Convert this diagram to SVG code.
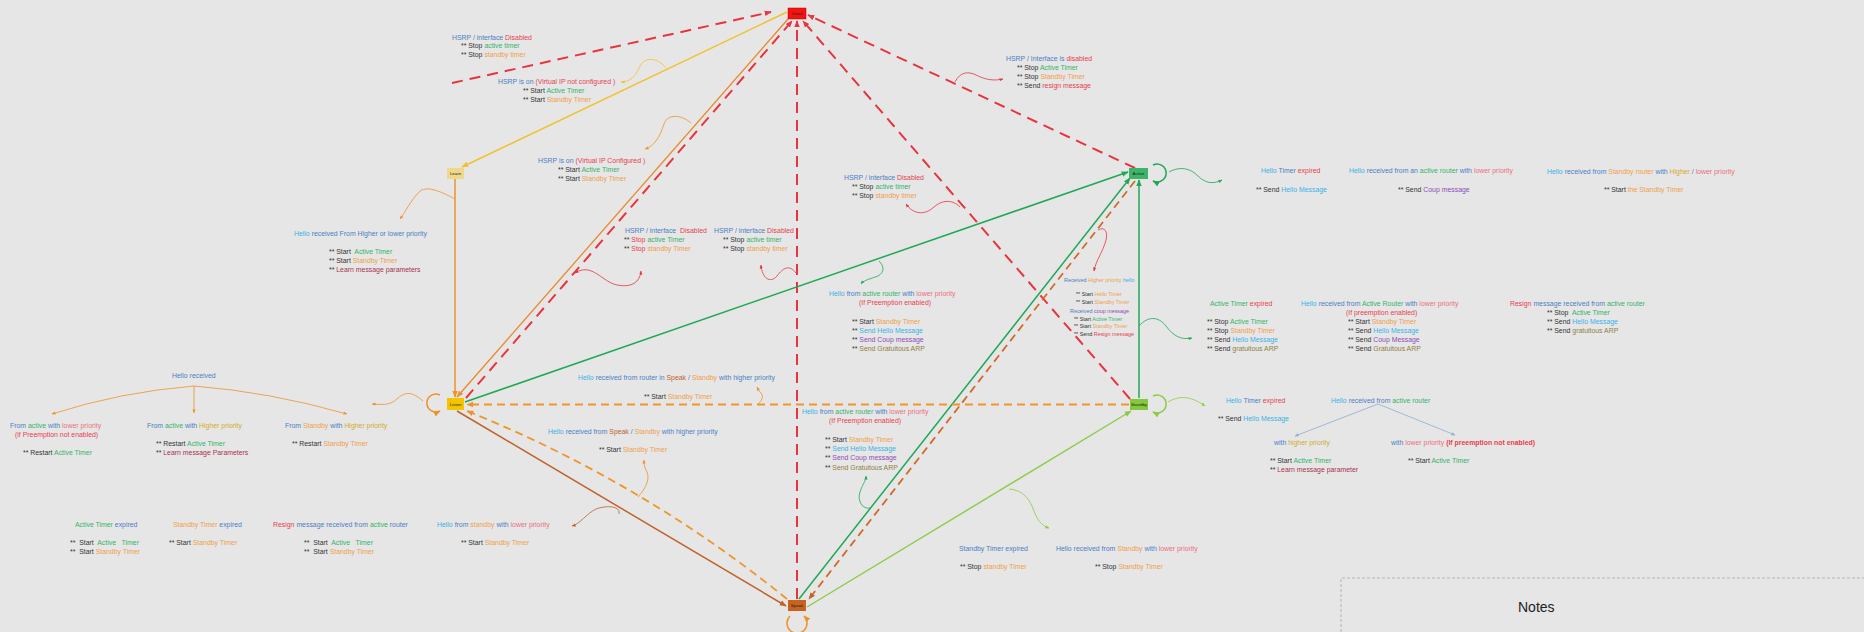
<svg xmlns="http://www.w3.org/2000/svg" width="1864" height="632" viewBox="0 0 1864 632">
<style>
  text { font-family: "Liberation Sans", Arial, sans-serif; font-size: 6.9px; fill: #333; }
  .s { font-size: 5.4px; }
  .nl { font-size: 4.4px; text-anchor: middle; fill: #222; }
  .b { fill: #4a80c4; } .h { fill: #3ab2e6; } .g { fill: #35b36a; } .o { fill: #f0a04a; }
  .r { fill: #e6404f; } .p { fill: #ea7080; } .v { fill: #8e4cb8; } .ol { fill: #8f7f45; }
  .m { fill: #a8334f; } .y { fill: #d4ab2c; } .br { fill: #c0622a; }
  .bold { font-weight: bold; }
  .ln { fill: none; }
  .red { stroke: #e8343e; stroke-width: 2; stroke-dasharray: 11 7; }
  .wv { fill: none; stroke-width: 0.8; }
</style>
<defs>
  <marker id="aR" viewBox="0 0 10 10" refX="9" refY="5" markerUnits="userSpaceOnUse" markerWidth="7" markerHeight="7" orient="auto"><path d="M0,1 L10,5 L0,9 z" fill="#e8343e"/></marker>
  <marker id="aY" viewBox="0 0 10 10" refX="9" refY="5" markerUnits="userSpaceOnUse" markerWidth="7" markerHeight="7" orient="auto"><path d="M0,1 L10,5 L0,9 z" fill="#f2c12e"/></marker>
  <marker id="aO" viewBox="0 0 10 10" refX="9" refY="5" markerUnits="userSpaceOnUse" markerWidth="7" markerHeight="7" orient="auto"><path d="M0,1 L10,5 L0,9 z" fill="#ee922c"/></marker>
  <marker id="aG" viewBox="0 0 10 10" refX="9" refY="5" markerUnits="userSpaceOnUse" markerWidth="7" markerHeight="7" orient="auto"><path d="M0,1 L10,5 L0,9 z" fill="#1fa855"/></marker>
  <marker id="aL" viewBox="0 0 10 10" refX="9" refY="5" markerUnits="userSpaceOnUse" markerWidth="7" markerHeight="7" orient="auto"><path d="M0,1 L10,5 L0,9 z" fill="#8ccc44"/></marker>
  <marker id="aB" viewBox="0 0 10 10" refX="9" refY="5" markerUnits="userSpaceOnUse" markerWidth="7" markerHeight="7" orient="auto"><path d="M0,1 L10,5 L0,9 z" fill="#c0622a"/></marker>
  <marker id="sR" viewBox="0 0 10 10" refX="9" refY="5" markerUnits="userSpaceOnUse" markerWidth="4" markerHeight="4" orient="auto-start-reverse"><path d="M0,1 L10,5 L0,9 z" fill="#e8343e"/></marker>
  <marker id="sY" viewBox="0 0 10 10" refX="9" refY="5" markerUnits="userSpaceOnUse" markerWidth="4" markerHeight="4" orient="auto"><path d="M0,1 L10,5 L0,9 z" fill="#f2c12e"/></marker>
  <marker id="sO" viewBox="0 0 10 10" refX="9" refY="5" markerUnits="userSpaceOnUse" markerWidth="4" markerHeight="4" orient="auto"><path d="M0,1 L10,5 L0,9 z" fill="#ee922c"/></marker>
  <marker id="sG" viewBox="0 0 10 10" refX="9" refY="5" markerUnits="userSpaceOnUse" markerWidth="4" markerHeight="4" orient="auto"><path d="M0,1 L10,5 L0,9 z" fill="#1fa855"/></marker>
  <marker id="sL" viewBox="0 0 10 10" refX="9" refY="5" markerUnits="userSpaceOnUse" markerWidth="4" markerHeight="4" orient="auto"><path d="M0,1 L10,5 L0,9 z" fill="#8ccc44"/></marker>
  <marker id="sB" viewBox="0 0 10 10" refX="9" refY="5" markerUnits="userSpaceOnUse" markerWidth="4" markerHeight="4" orient="auto"><path d="M0,1 L10,5 L0,9 z" fill="#c0622a"/></marker>
  <marker id="sS" viewBox="0 0 10 10" refX="9" refY="5" markerUnits="userSpaceOnUse" markerWidth="4" markerHeight="4" orient="auto"><path d="M0,1 L10,5 L0,9 z" fill="#8aaed0"/></marker>
</defs>

<rect width="1864" height="632" fill="#e6e6e6"/>

<!-- state transitions -->
<g id="connectors">
  <!-- disabled: back to Initial -->
  <path class="ln red" d="M452,83 L771,12" marker-end="url(#aR)"/>
  <path class="ln red" d="M466,398 L792,21" marker-end="url(#aR)"/>
  <path class="ln red" d="M797,599 L797,21" marker-end="url(#aR)"/>
  <path class="ln red" d="M1130,399 L803,21" marker-end="url(#aR)"/>
  <path class="ln red" d="M1135,168 L808,15" marker-end="url(#aR)"/>
  <!-- Initial -> Learn / Listen -->
  <path class="ln" d="M787,12 L462,167" stroke="#f2c12e" stroke-width="1.5" marker-end="url(#aY)"/>
  <path class="ln" d="M788,19 L457,397" stroke="#e8892a" stroke-width="1.3" marker-end="url(#aO)"/>
  <!-- Learn -> Listen -->
  <path class="ln" d="M455,179 L455,397" stroke="#ee922c" stroke-width="1.5" marker-end="url(#aO)"/>
  <!-- to Active -->
  <path class="ln" d="M465,402 L1128,172" stroke="#1fa855" stroke-width="1.5" marker-end="url(#aG)"/>
  <path class="ln" d="M799,599 L1130,178" stroke="#1fa855" stroke-width="1.5" marker-end="url(#aG)"/>
  <path class="ln" d="M1139,398 L1139,180" stroke="#1fa855" stroke-width="1.5" marker-end="url(#aG)"/>
  <!-- Active -> Speak -->
  <path class="ln" d="M1135,181 L809,599" stroke="#d2692a" stroke-width="1.8" stroke-dasharray="8 5" marker-end="url(#aB)"/>
  <!-- Listen -> Speak -->
  <path class="ln" d="M457,411 L786,606" stroke="#c0622a" stroke-width="1.5" marker-end="url(#aB)"/>
  <!-- Speak / Standby -> Listen -->
  <path class="ln" d="M787,599 Q641,481 467,411" stroke="#f0952a" stroke-width="1.8" stroke-dasharray="8 5" marker-end="url(#aO)"/>
  <path class="ln" d="M1129,404.5 L467,404.5" stroke="#f0952a" stroke-width="1.8" stroke-dasharray="8 5" marker-end="url(#aO)"/>
  <!-- Speak -> Standby -->
  <path class="ln" d="M807,607 L1131,411" stroke="#8ccc44" stroke-width="1.4" marker-end="url(#aL)"/>

  <!-- self loops -->
  <path class="ln" d="M1153,165 A9,9 0 1 1 1153,181" stroke="#1fa855" stroke-width="1.5" marker-end="url(#aG)"/>
  <path class="ln" d="M1153,396 A9,9 0 1 1 1153,412" stroke="#8ccc44" stroke-width="1.5" marker-end="url(#aL)"/>
  <path class="ln" d="M440,395 A9,9 0 1 0 440,411" stroke="#ee922c" stroke-width="1.5" marker-end="url(#aO)"/>
  <path class="ln" d="M790,616 A10,10 0 1 0 804,616" stroke="#ee922c" stroke-width="1.5" marker-end="url(#aO)"/>

  <!-- label pointers -->
  <path class="wv" stroke="#f2c12e" d="M666,68 C658,58 645,56 640,66 C636,76 630,82 621,82" marker-end="url(#sY)"/>
  <path class="wv" stroke="#ee922c" d="M691,123 C682,115 668,113 664,124 C660,136 655,146 645,149" marker-end="url(#sO)"/>
  <path class="wv" stroke="#e8343e" d="M575,273 C592,262 602,282 617,285 C632,288 640,282 641,271" marker-start="url(#sR)" marker-end="url(#sR)"/>
  <path class="wv" stroke="#e8343e" d="M796,273 C789,264 783,268 777,276 C770,284 762,278 761,265" marker-end="url(#sR)"/>
  <path class="wv" stroke="#e8343e" d="M960,207 C952,199 942,200 934,207 C924,216 913,214 906,204" marker-end="url(#sR)"/>
  <path class="wv" stroke="#e8343e" d="M955,82 C960,72 968,71 976,75 C986,80 994,81 1003,79" marker-end="url(#sR)"/>
  <path class="wv" stroke="#e8343e" d="M1098,230 C1105,226 1108,232 1106,240 C1103,252 1096,260 1094,271" marker-end="url(#sR)"/>
  <path class="wv" stroke="#1fa855" d="M879,261 C884,266 885,272 878,276 C870,279 864,280 861,284" marker-end="url(#sG)"/>
  <path class="wv" stroke="#1fa855" d="M1139,326 C1148,316 1158,316 1166,326 C1174,337 1182,340 1192,338" marker-end="url(#sG)"/>
  <path class="wv" stroke="#1fa855" d="M1169,172 C1180,166 1190,168 1198,176 C1206,184 1214,184 1222,180" marker-end="url(#sG)"/>
  <path class="wv" stroke="#1fa855" d="M871,508 C862,510 857,500 860,492 C862,485 866,481 866,476" marker-end="url(#sG)"/>
  <path class="wv" stroke="#8ccc44" d="M1168,402 C1178,396 1190,395 1205,406" marker-end="url(#sL)"/>
  <path class="wv" stroke="#8ccc44" d="M1009,489 C1024,490 1030,500 1034,511 C1038,522 1043,526 1049,528" marker-end="url(#sL)"/>
  <path class="wv" stroke="#ee922c" d="M758,404 C764,399 763,394 760,392 C758,390 758,389 757,387" marker-end="url(#sO)"/>
  <path class="wv" stroke="#ee922c" d="M638,497 C646,488 651,478 646,470 C644,466 644,463 644,460" marker-end="url(#sO)"/>
  <path class="wv" stroke="#c0622a" d="M619,514 C621,506 607,505 596,509 C586,514 580,524 572,526" marker-end="url(#sB)"/>
  <path class="wv" stroke="#ee922c" d="M455,199 C440,191 426,185 419,192 C411,200 406,211 400,219" marker-end="url(#sO)"/>
  <path class="wv" stroke="#ee922c" d="M423,401 C412,391 405,392 398,398 C391,405 385,405 372,404" marker-end="url(#sO)"/>

  <!-- Listen: hello received branches -->
  <path class="wv" stroke="#ee922c" d="M194,386 Q120,392 52,414" marker-end="url(#sO)"/>
  <path class="wv" stroke="#ee922c" d="M194,386 L194,413" marker-end="url(#sO)"/>
  <path class="wv" stroke="#ee922c" d="M194,386 Q270,392 347,414" marker-end="url(#sO)"/>
  <!-- Standby: hello from active router branches -->
  <path class="wv" stroke="#8aaed0" d="M1378,404 L1295,436" marker-end="url(#sS)"/>
  <path class="wv" stroke="#8aaed0" d="M1378,404 L1455,435" marker-end="url(#sS)"/>
</g>

<!-- states -->
<g id="node-initial"><rect x="788" y="8" width="18" height="11" fill="#f41212" stroke="#b80000" stroke-width="0.5"/><text class="nl" x="797" y="15">Initial</text></g>
<g id="node-learn"><rect x="447" y="168" width="17" height="11" fill="#eed98a"/><text class="nl" x="455.5" y="175">Learn</text></g>
<g id="node-listen"><rect x="447" y="398" width="17" height="12" fill="#f5c400"/><text class="nl" x="455.5" y="405.5">Listen</text></g>
<g id="node-active"><rect x="1129" y="168" width="19" height="11" fill="#3cb46a"/><text class="nl" x="1138.5" y="175">Active</text></g>
<g id="node-standby"><rect x="1130" y="399" width="18" height="11" fill="#84c83c"/><text class="nl" x="1139" y="406">Standby</text></g>
<g id="node-speak"><rect x="788" y="600" width="18" height="11" fill="#c8621e"/><text class="nl" x="797" y="607">Speak</text></g>

<!-- transition descriptions -->
<g id="labels">
  <text x="452" y="39.5"><tspan class="b">HSRP / interface </tspan><tspan class="r">Disabled</tspan></text>
  <text x="461" y="48">** Stop <tspan class="g">active timer</tspan></text>
  <text x="461" y="57">** Stop <tspan class="o">standby timer</tspan></text>

  <text x="498" y="83.5"><tspan class="b">HSRP is on </tspan><tspan class="r">(Virtual IP not configured )</tspan></text>
  <text x="523" y="92.5">** Start <tspan class="g">Active Timer</tspan></text>
  <text x="523" y="101.5">** Start <tspan class="o">Standby Timer</tspan></text>

  <text x="538" y="162.5"><tspan class="b">HSRP is on </tspan><tspan class="r">(Virtual IP Configured )</tspan></text>
  <text x="558" y="171.5">** Start <tspan class="g">Active Timer</tspan></text>
  <text x="558" y="180.5">** Start <tspan class="o">Standby Timer</tspan></text>

  <text x="844" y="179.5"><tspan class="b">HSRP / interface </tspan><tspan class="r">Disabled</tspan></text>
  <text x="852" y="189">** Stop <tspan class="g">active timer</tspan></text>
  <text x="852" y="198">** Stop <tspan class="o">standby timer</tspan></text>

  <text x="1006" y="60.5"><tspan class="b">HSRP / Interface is </tspan><tspan class="r">disabled</tspan></text>
  <text x="1017" y="69.5">** Stop <tspan class="g">Active Timer</tspan></text>
  <text x="1017" y="78.5">** Stop <tspan class="o">Standby Timer</tspan></text>
  <text x="1017" y="87.5">** Send <tspan class="r">resign message</tspan></text>

  <text x="1261" y="173"><tspan class="h">Hello </tspan><tspan class="b">Timer </tspan><tspan class="r">expired</tspan></text>
  <text x="1256" y="191.5">** Send <tspan class="h">Hello Message</tspan></text>
  <text x="1349" y="173"><tspan class="h">Hello </tspan><tspan class="b">received from an </tspan><tspan class="g">active router </tspan><tspan class="b">with </tspan><tspan class="p">lower priority</tspan></text>
  <text x="1398" y="191.5">** Send <tspan class="v">Coup message</tspan></text>
  <text x="1547" y="173.5"><tspan class="h">Hello </tspan><tspan class="b">received from </tspan><tspan class="o">Standby router </tspan><tspan class="b">with </tspan><tspan class="y">Higher </tspan><tspan class="b">/ </tspan><tspan class="p">lower priority</tspan></text>
  <text x="1604" y="191.5">** Start <tspan class="o">the Standby Timer</tspan></text>

  <text x="294" y="235.5"><tspan class="h">Hello </tspan><tspan class="b">received From Higher or lower priority</tspan></text>
  <text x="329" y="253.5" xml:space="preserve">** Start  <tspan class="g">Active Timer</tspan></text>
  <text x="329" y="262.5">** Start <tspan class="o">Standby Timer</tspan></text>
  <text x="329" y="271.5">** <tspan class="m">Learn message parameters</tspan></text>

  <text x="172" y="378" class="b">Hello received</text>
  <text x="10" y="427.5"><tspan class="b">From </tspan><tspan class="g">active </tspan><tspan class="b">with </tspan><tspan class="p">lower priority</tspan></text>
  <text x="15" y="436.5" class="r">(if Preemption not enabled)</text>
  <text x="23" y="454.5">** Restart <tspan class="g">Active Timer</tspan></text>
  <text x="147" y="427.5"><tspan class="b">From </tspan><tspan class="g">active </tspan><tspan class="b">with </tspan><tspan class="y">Higher priority</tspan></text>
  <text x="156" y="445.5">** Restart <tspan class="g">Active Timer</tspan></text>
  <text x="156" y="454.5">** <tspan class="m">Learn message Parameters</tspan></text>
  <text x="285" y="427.5"><tspan class="b">From </tspan><tspan class="o">Standby </tspan><tspan class="b">with </tspan><tspan class="y">Higher priority</tspan></text>
  <text x="292" y="445.5">** Restart <tspan class="o">Standby Timer</tspan></text>

  <text x="75" y="526.5"><tspan class="g">Active Timer </tspan><tspan class="b">expired</tspan></text>
  <text x="70" y="544.5" xml:space="preserve">**  Start  <tspan class="g">Active   Timer</tspan></text>
  <text x="70" y="553.5" xml:space="preserve">**  Start <tspan class="o">Standby Timer</tspan></text>
  <text x="173" y="526.5"><tspan class="o">Standby Timer </tspan><tspan class="b">expired</tspan></text>
  <text x="169" y="544.5">** Start <tspan class="o">Standby Timer</tspan></text>
  <text x="273" y="526.5"><tspan class="r">Resign </tspan><tspan class="b">message received from </tspan><tspan class="g">active </tspan><tspan class="b">router</tspan></text>
  <text x="304" y="544.5" xml:space="preserve">**  Start  <tspan class="g">Active   Timer</tspan></text>
  <text x="304" y="553.5" xml:space="preserve">**  Start <tspan class="o">Standby Timer</tspan></text>
  <text x="437" y="526.5"><tspan class="h">Hello </tspan><tspan class="b">from </tspan><tspan class="o">standby </tspan><tspan class="b">with </tspan><tspan class="p">lower priority</tspan></text>
  <text x="461" y="544.5">** Start <tspan class="o">Standby Timer</tspan></text>

  <text x="625" y="232.5" xml:space="preserve"><tspan class="b">HSRP / interface  </tspan><tspan class="r">Disabled</tspan></text>
  <text x="624" y="241.5">** <tspan class="r">Stop </tspan><tspan class="g">active Timer</tspan></text>
  <text x="624" y="250.5">** <tspan class="r">Stop </tspan><tspan class="o">standby Timer</tspan></text>
  <text x="714" y="232.5"><tspan class="b">HSRP / interface </tspan><tspan class="r">Disabled</tspan></text>
  <text x="723" y="241.5">** Stop <tspan class="g">active timer</tspan></text>
  <text x="723" y="250.5">** Stop <tspan class="o">standby timer</tspan></text>

  <text x="829" y="296"><tspan class="h">Hello </tspan><tspan class="b">from </tspan><tspan class="g">active router </tspan><tspan class="b">with </tspan><tspan class="p">lower priority</tspan></text>
  <text x="859" y="305" class="r">(If Preemption enabled)</text>
  <text x="852" y="324">** Start <tspan class="o">Standby Timer</tspan></text>
  <text x="852" y="333">** <tspan class="h">Send Hello Message</tspan></text>
  <text x="852" y="342">** <tspan class="v">Send Coup message</tspan></text>
  <text x="852" y="351">** <tspan class="ol">Send Gratuitous ARP</tspan></text>

  <text x="578" y="379.5"><tspan class="h">Hello </tspan><tspan class="b">received from router in </tspan><tspan class="br">Speak </tspan><tspan class="b">/ </tspan><tspan class="o">Standby </tspan><tspan class="b">with higher priority</tspan></text>
  <text x="644" y="398.5">** Start <tspan class="o">Standby Timer</tspan></text>

  <text x="802" y="414"><tspan class="h">Hello </tspan><tspan class="b">from </tspan><tspan class="g">active router </tspan><tspan class="b">with </tspan><tspan class="p">lower priority</tspan></text>
  <text x="829" y="423" class="r">(If Preemption enabled)</text>
  <text x="825" y="441.5">** Start <tspan class="o">Standby Timer</tspan></text>
  <text x="825" y="450.5">** <tspan class="h">Send Hello Message</tspan></text>
  <text x="825" y="460">** <tspan class="v">Send Coup message</tspan></text>
  <text x="825" y="469.5">** <tspan class="ol">Send Gratuitous ARP</tspan></text>

  <text x="548" y="433.5"><tspan class="h">Hello </tspan><tspan class="b">received from </tspan><tspan class="br">Speak </tspan><tspan class="b">/ </tspan><tspan class="o">Standby </tspan><tspan class="b">with higher priority</tspan></text>
  <text x="599" y="451.5">** Start <tspan class="o">Standby Timer</tspan></text>

  <text class="s" x="1064" y="282"><tspan class="b">Received </tspan><tspan class="o">Higher priority </tspan><tspan class="h">hello</tspan></text>
  <text class="s" x="1076" y="296">** Start <tspan class="o">Hello Timer</tspan></text>
  <text class="s" x="1076" y="303.5">** Start <tspan class="o">Standby Timer</tspan></text>
  <text class="s" x="1070" y="313"><tspan class="b">Received </tspan><tspan class="v">coup message</tspan></text>
  <text class="s" x="1074" y="320.5">** Start <tspan class="g">Active Timer</tspan></text>
  <text class="s" x="1074" y="328">** Start <tspan class="o">Standby Timer</tspan></text>
  <text class="s" x="1074" y="335.5">** Send <tspan class="r">Resign message</tspan></text>

  <text x="1210" y="305.5"><tspan class="g">Active Timer </tspan><tspan class="r">expired</tspan></text>
  <text x="1207" y="323.5">** Stop <tspan class="g">Active Timer</tspan></text>
  <text x="1207" y="332.5">** Stop <tspan class="o">Standby Timer</tspan></text>
  <text x="1207" y="341.5">** Send <tspan class="h">Hello Message</tspan></text>
  <text x="1207" y="350.5">** Send <tspan class="ol">gratuitous ARP</tspan></text>

  <text x="1301" y="305.5"><tspan class="h">Hello </tspan><tspan class="b">received from </tspan><tspan class="g">Active Router </tspan><tspan class="b">with </tspan><tspan class="p">lower priority</tspan></text>
  <text x="1346" y="314.5" class="r">(If preemption enabled)</text>
  <text x="1348" y="323.5">** Start <tspan class="o">Standby Timer</tspan></text>
  <text x="1348" y="332.5">** Send <tspan class="h">Hello Message</tspan></text>
  <text x="1348" y="341.5">** Send <tspan class="v">Coup Message</tspan></text>
  <text x="1348" y="350.5">** Send <tspan class="ol">Gratuitous ARP</tspan></text>

  <text x="1510" y="305.5"><tspan class="r">Resign </tspan><tspan class="b">message received from </tspan><tspan class="g">active router</tspan></text>
  <text x="1547" y="314.5" xml:space="preserve">** Stop  <tspan class="g">Active Timer</tspan></text>
  <text x="1547" y="323.5">** Send <tspan class="h">Hello Message</tspan></text>
  <text x="1547" y="332.5">** Send <tspan class="ol">gratuitous ARP</tspan></text>

  <text x="1226" y="402.5"><tspan class="h">Hello </tspan><tspan class="b">Timer </tspan><tspan class="r">expired</tspan></text>
  <text x="1218" y="420.5">** Send <tspan class="h">Hello Message</tspan></text>
  <text x="1331" y="402.5"><tspan class="h">Hello </tspan><tspan class="b">received from </tspan><tspan class="g">active router</tspan></text>
  <text x="1274" y="444.5"><tspan class="b">with </tspan><tspan class="y">higher priority</tspan></text>
  <text x="1270" y="462.5">** Start <tspan class="g">Active Timer</tspan></text>
  <text x="1270" y="471.5">** <tspan class="m">Learn message parameter</tspan></text>
  <text x="1391" y="444.5"><tspan class="b">with </tspan><tspan class="p">lower priority </tspan><tspan class="r bold">(If preemption not enabled)</tspan></text>
  <text x="1408" y="463">** Start <tspan class="g">Active Timer</tspan></text>

  <text x="959" y="550.5" class="b">Standby Timer expired</text>
  <text x="960" y="568.5">** Stop <tspan class="o">standby Timer</tspan></text>
  <text x="1056" y="550.5"><tspan class="b">Hello received from </tspan><tspan class="o">Standby </tspan><tspan class="b">with </tspan><tspan class="p">lower priority</tspan></text>
  <text x="1095" y="568.5">** Stop <tspan class="o">Standby Timer</tspan></text>
</g>

<!-- notes panel -->
<g id="notes">
  <path d="M1341,632 L1341,578 L1864,578" fill="none" stroke="#a8a8a8" stroke-width="0.8" stroke-dasharray="3 2"/>
  <text x="1518" y="612" style="font-size:14px; fill:#222;">Notes</text>
</g>
</svg>
